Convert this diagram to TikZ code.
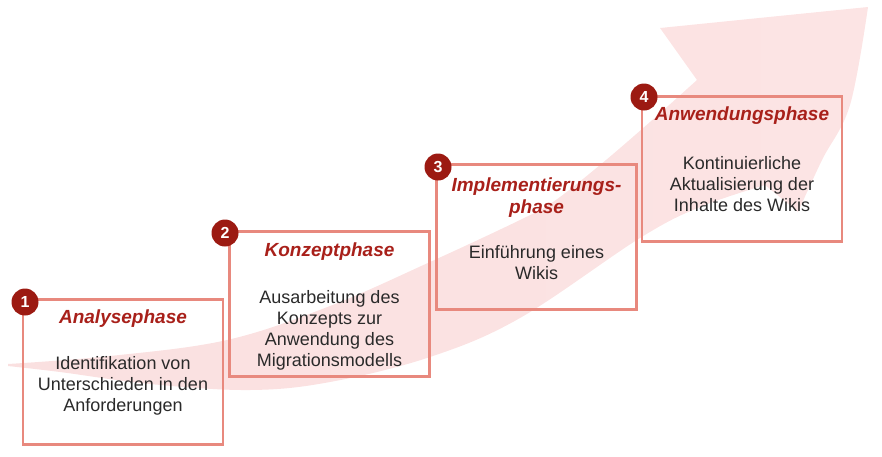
\documentclass[tikz,border=0pt]{standalone}
\usepackage{fontspec}
\setmainfont{Liberation Sans}
\definecolor{bandL}{HTML}{FAE0E0}
\definecolor{bandM}{HTML}{F5CBCB}
\definecolor{bandR}{HTML}{FCE4E4}
\definecolor{boxline}{HTML}{E8897E}
\definecolor{numred}{HTML}{9C1A12}
\definecolor{titlered}{HTML}{A8201A}
\definecolor{bodytext}{HTML}{2A2A2A}
\tikzset{
  phasebox/.style={draw=boxline, line width=2.6pt, minimum width=200pt, minimum height=145pt, inner sep=0pt},
  numdot/.style={circle, fill=numred, minimum size=27pt, inner sep=0pt, text=white, font=\fontsize{16}{16}\selectfont\bfseries},
  phasetitle/.style={text=titlered, font=\fontsize{19}{21.5}\selectfont\bfseries\itshape, align=center, inner sep=0pt},
  phasebody/.style={text=bodytext, font=\fontsize{18}{21}\selectfont, align=center, inner sep=0pt},
}
\begin{document}
\begin{tikzpicture}[x=1pt, y=-1pt]
\useasboundingbox (0,0) rectangle (882,456);
% curved band arrow
\shade[left color=bandL, middle color=bandM, right color=bandR]
  plot[smooth, tension=0.6] coordinates {(8,364) (110,356) (227,340) (330,306) (430,262) (520,220) (553,202) (600,165) (650,122) (697,80)}
  -- (660,28) -- (868,7)
  -- plot[smooth, tension=0.6] coordinates {(868,7) (850,105) (822,160) (798,212)}
  -- (765,185)
  -- plot[smooth, tension=0.6] coordinates {(765,185) (700,207) (640,238) (520,318) (430,357) (330,382) (250,390) (150,384) (60,372) (8,366)}
  -- cycle;
% boxes
\node[phasebox] (b1) at (123,372) {};
\node[phasebox] (b2) at (329.5,304) {};
\node[phasebox] (b3) at (536.5,237) {};
\node[phasebox] (b4) at (742,169) {};
% titles
\node[phasetitle] (t1) at (123,319) {Analysephase};
\node[phasetitle] (t2) at (329.5,252) {Konzeptphase};
\node[phasetitle] (t3) at (536.5,197.5) {Implementierungs-\\phase};
\node[phasetitle] (t4) at (742,116) {Anwendungsphase};
% bodies
\node[phasebody] (d1) at (123,386) {Identifikation von\\Unterschieden in den\\Anforderungen};
\node[phasebody] (d2) at (329.5,330.5) {Ausarbeitung des\\Konzepts zur\\Anwendung des\\Migrationsmodells};
\node[phasebody] (d3) at (536.5,263) {Einführung eines\\Wikis};
\node[phasebody] (d4) at (742,184) {Kontinuierliche\\Aktualisierung der\\Inhalte des Wikis};
% numbers
\node[numdot] (n1) at (25,302) {1};
\node[numdot] (n2) at (225,233) {2};
\node[numdot] (n3) at (438,167) {3};
\node[numdot] (n4) at (644,97) {4};
\end{tikzpicture}
\end{document}
